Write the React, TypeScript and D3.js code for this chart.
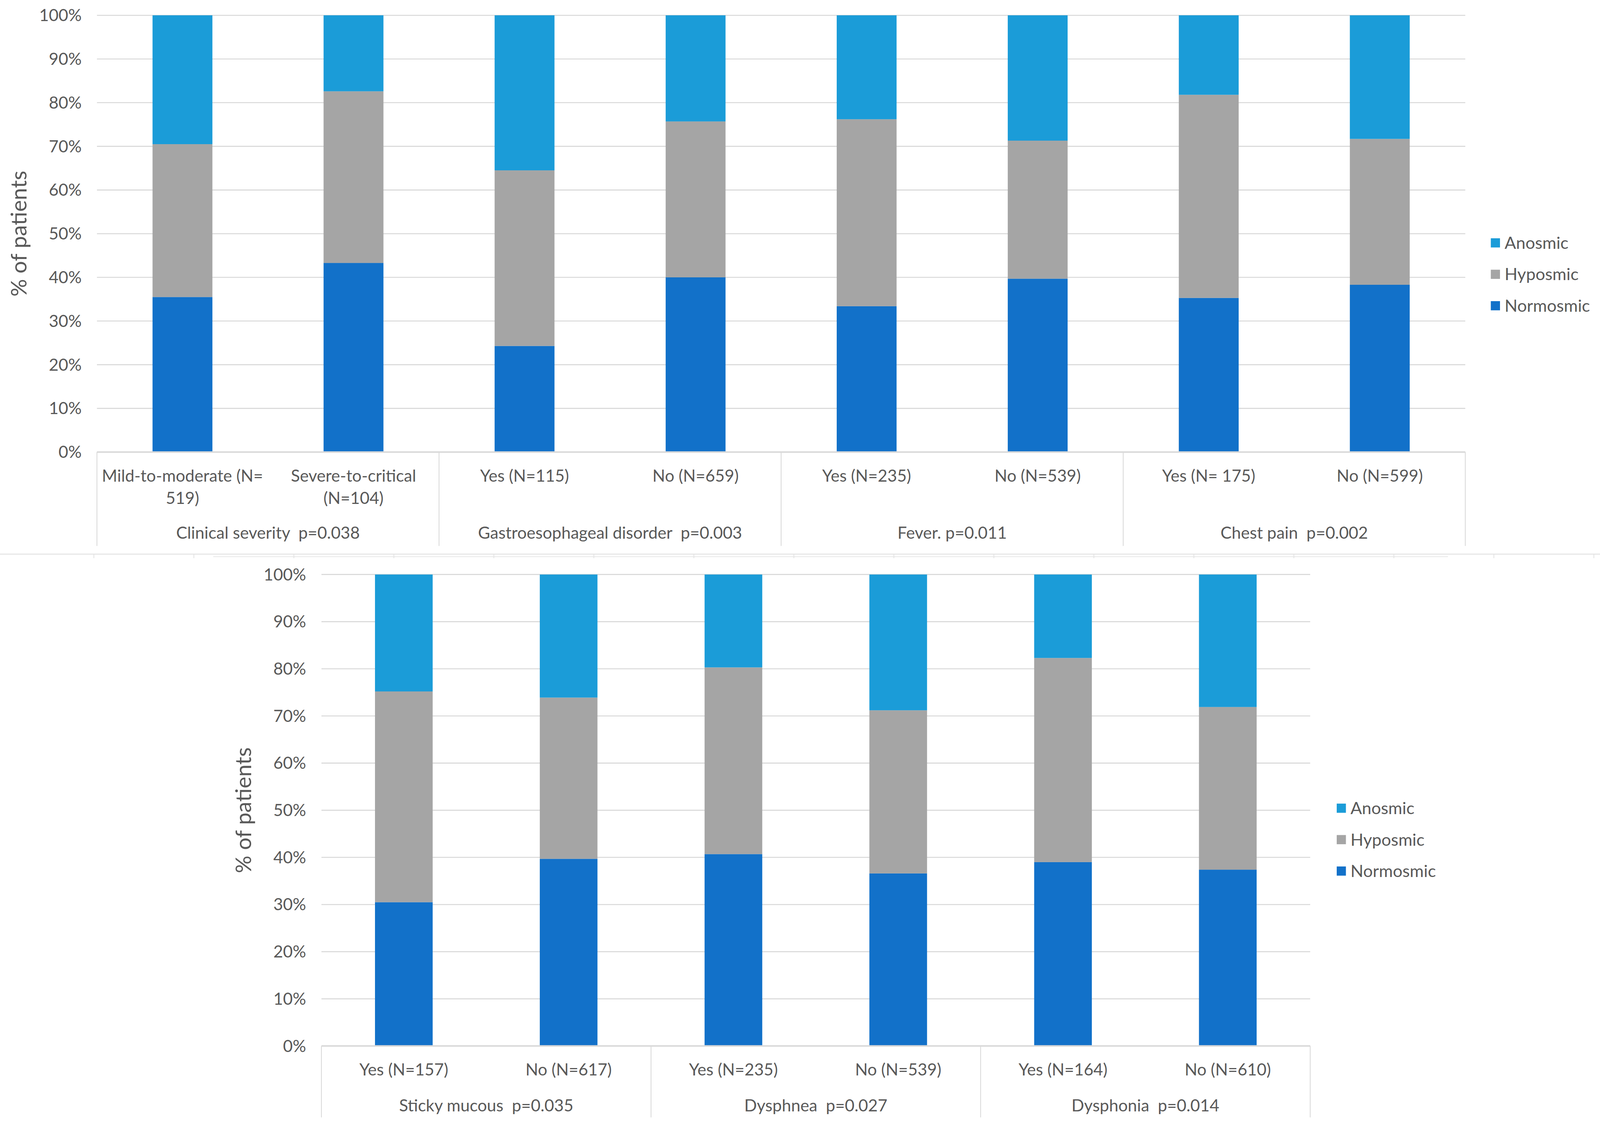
import React, { useEffect } from "react";
import * as d3 from "d3";

// values, in % of patients
const seriesNames = ["Normosmic", "Hyposmic", "Anosmic"];
const seriesColors = ["#1271c9", "#a5a5a5", "#1b9cd8"];

const topCategories = [
  ["Mild-to-moderate (N=", "519)"],
  ["Severe-to-critical", "(N=104)"],
  ["Yes (N=115)"],
  ["No (N=659)"],
  ["Yes (N=235)"],
  ["No (N=539)"],
  ["Yes (N= 175)"],
  ["No (N=599)"],
];
const topGroups = [
  "Clinical severity  p=0.038",
  "Gastroesophageal disorder  p=0.003",
  "Fever. p=0.011",
  "Chest pain  p=0.002",
];
const topNormosmic = [35.5, 43.3, 24.3, 40.0, 33.4, 39.7, 35.3, 38.3];
const topHyposmic = [35.0, 39.3, 40.2, 35.7, 42.8, 31.6, 46.5, 33.4];
const topAnosmic = [29.5, 17.4, 35.5, 24.3, 23.8, 28.7, 18.2, 28.3];

const bottomCategories = [
  ["Yes (N=157)"],
  ["No (N=617)"],
  ["Yes (N=235)"],
  ["No (N=539)"],
  ["Yes (N=164)"],
  ["No (N=610)"],
];
const bottomGroups = [
  "Sticky mucous  p=0.035",
  "Dysphnea  p=0.027",
  "Dysphonia  p=0.014",
];
const bottomNormosmic = [30.5, 39.7, 40.7, 36.6, 39.0, 37.4];
const bottomHyposmic = [44.7, 34.2, 39.6, 34.6, 43.3, 34.5];
const bottomAnosmic = [24.8, 26.1, 19.7, 28.8, 17.7, 28.1];

const yTicks = [0, 10, 20, 30, 40, 50, 60, 70, 80, 90, 100];

const W = 1568;
const H = 1105.4;
const TEXT = "#595959";
const GRID = "#d9d9d9";
const FONT = "Lato, 'Open Sans', sans-serif";

interface PanelProps {
  categories: string[][];
  groups: string[];
  normosmic: number[];
  hyposmic: number[];
  anosmic: number[];
  left: number;
  right: number;
  top: number;
  bottom: number;
  sepBottom: number;
  labelY: number;
  groupY: number;
  titleX: number;
  legendX: number;
  legendY: number;
}

const Panel: React.FC<PanelProps> = (p) => {
  const idx = p.categories.map((_, i) => String(i));
  const x = d3.scaleBand().domain(idx).range([p.left, p.right]).paddingInner(0.65).paddingOuter(0.325);
  const y = d3.scaleLinear().domain([0, 100]).range([p.bottom, p.top]);
  const rows = idx.map((k, i) => ({
    key: k,
    Normosmic: p.normosmic[i],
    Hyposmic: p.hyposmic[i],
    Anosmic: p.anosmic[i],
  }));
  const stacked = d3.stack<any>().keys(seriesNames)(rows);
  const groupW = (p.right - p.left) / p.groups.length;
  const seps = d3.range(p.groups.length + 1).map((g) => p.left + g * groupW);

  return (
    <g fontFamily={FONT} fill={TEXT}>
      {yTicks.map((t) => (
        <g key={t}>
          <line x1={p.left} x2={p.right} y1={y(t)} y2={y(t)} stroke={GRID} strokeWidth={1} />
          <text x={p.left - 15} y={y(t)} dy="0.35em" textAnchor="end" fontSize={16.4}>
            {t}%
          </text>
        </g>
      ))}
      <text
        transform={`translate(${p.titleX},${(p.top + p.bottom) / 2}) rotate(-90)`}
        textAnchor="middle"
        fontSize={21.5}
      >
        % of patients
      </text>
      {stacked.map((s, si) => (
        <g key={s.key} fill={seriesColors[si]}>
          {s.map((d, i) => (
            <rect
              key={i}
              x={x(idx[i])}
              width={x.bandwidth()}
              y={y(d[1])}
              height={y(d[0]) - y(d[1])}
            />
          ))}
        </g>
      ))}
      <line x1={p.left} x2={p.right} y1={p.bottom} y2={p.bottom} stroke={GRID} strokeWidth={1.5} />
      {seps.map((sx, i) => (
        <line key={i} x1={sx} x2={sx} y1={p.bottom} y2={p.sepBottom} stroke={GRID} strokeWidth={0.8} />
      ))}
      {p.categories.map((lines, i) => (
        <text key={i} x={x(idx[i])! + x.bandwidth() / 2} y={p.labelY} textAnchor="middle" fontSize={16.3}>
          {lines.map((ln, j) => (
            <tspan key={j} x={x(idx[i])! + x.bandwidth() / 2} dy={j === 0 ? 0 : 22}>
              {ln}
            </tspan>
          ))}
        </text>
      ))}
      {p.groups.map((g, i) => (
        <text key={g} x={p.left + (i + 0.5) * groupW} y={p.groupY} textAnchor="middle" fontSize={16.3} xmlSpace="preserve">
          {g}
        </text>
      ))}
      {["Anosmic", "Hyposmic", "Normosmic"].map((n, i) => (
        <g key={n} transform={`translate(${p.legendX},${p.legendY + i * 30.8})`}>
          <rect x={0} y={-4.5} width={9} height={9} fill={seriesColors[seriesNames.indexOf(n)]} />
          <text x={13.5} dy="0.35em" fontSize={16.6}>
            {n}
          </text>
        </g>
      ))}
    </g>
  );
};

export default function App() {
  useEffect(() => {
    document.documentElement.style.overflow = "hidden";
    document.body.style.margin = "0";
    document.body.style.overflow = "hidden";
  }, []);
  const ticks = d3.range(92, W, 98);
  return (
    <svg
      viewBox={`0 0 ${W} ${H}`}
      style={{
        position: "fixed",
        left: 0,
        top: 0,
        width: "100vw",
        height: `${(2908 / 4125) * 100}vw`,
        background: "#fff",
        display: "block",
      }}
    >
      <rect width={W} height={H} fill="#fff" />
      <Panel
        categories={topCategories}
        groups={topGroups}
        normosmic={topNormosmic}
        hyposmic={topHyposmic}
        anosmic={topAnosmic}
        left={95}
        right={1436}
        top={15}
        bottom={443}
        sepBottom={535}
        labelY={472}
        groupY={528}
        titleX={26}
        legendX={1461}
        legendY={238}
      />
      {/* the cut edge between the two figures */}
      <line x1={0} x2={W} y1={543} y2={543} stroke="#e3e3e3" strokeWidth={1} />
      <line x1={209} x2={1419} y1={545.5} y2={545.5} stroke="#e8e8e8" strokeWidth={0.8} />
      {ticks.map((t) => (
        <line key={t} x1={t} x2={t} y1={543} y2={547} stroke="#e3e3e3" strokeWidth={0.8} />
      ))}
      <Panel
        categories={bottomCategories}
        groups={bottomGroups}
        normosmic={bottomNormosmic}
        hyposmic={bottomHyposmic}
        anosmic={bottomAnosmic}
        left={315}
        right={1284}
        top={563}
        bottom={1025}
        sepBottom={1095}
        labelY={1054}
        groupY={1089}
        titleX={246}
        legendX={1310}
        legendY={792}
      />
    </svg>
  );
}
